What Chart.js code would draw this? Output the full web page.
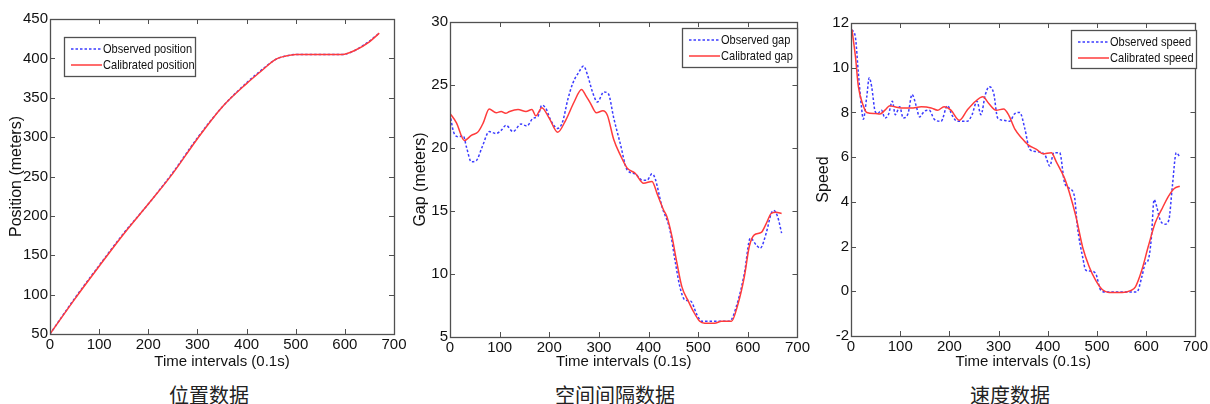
<!doctype html>
<html lang="zh">
<head>
<meta charset="utf-8">
<title>位置 / 空间间隔 / 速度数据</title>
<script src="https://cdn.jsdelivr.net/npm/chart.js@4/dist/chart.umd.min.js"></script>
<style>
  html, body { margin: 0; padding: 0; background: #fff; }
  #wrap { position: relative; width: 1210px; height: 404px; overflow: hidden; background: #fff; }
  canvas { position: absolute; top: 0; }
  .cap { position: absolute; top: 382px; width: 240px; text-align: center;
         font-family: "Noto Sans CJK SC", sans-serif; font-size: 20px; color: #222; line-height: 26px; }
</style>
</head>
<body>
<div id="wrap">
  <canvas id="c1" width="412" height="375" style="left:0px"></canvas>
  <canvas id="c2" width="412" height="375" style="left:400px"></canvas>
  <canvas id="c3" width="405" height="375" style="left:805px"></canvas>
  <div class="cap" style="left:89px">位置数据</div>
  <div class="cap" style="left:495px">空间间隔数据</div>
  <div class="cap" style="left:890px">速度数据</div>
</div>
<script>
// ---- data (time in 0.1s steps) ----
var posT    = [0, 50, 100, 150, 200, 250, 300, 350, 400, 430, 460, 480, 500, 550, 595, 620, 650, 670];
var posObs  = [50, 95, 137, 178, 215, 255, 299, 338, 369, 385, 399, 403, 405, 405, 405, 410, 422, 432];
var posCal  = [50, 94, 136, 177, 215, 254, 298, 338, 368, 384, 399, 403, 405, 405, 405, 410, 421, 432];

var gapObsT = [0, 7, 17, 27, 33, 43, 53, 65, 79, 93, 103, 113, 127, 143, 155, 167, 177, 185, 193, 203, 217, 227,
               237, 247, 260, 269, 277, 287, 297, 310, 319, 330, 343, 357, 373, 387, 397, 407, 413, 427, 443, 453,
               463, 473, 485, 497, 507, 540, 563, 580, 593, 605, 617, 625, 637, 647, 652, 660, 668];
var gapObs  = [22.7, 21.3, 20.9, 20.95, 20.1, 18.9, 19.0, 20.1, 21.3, 21.15, 21.4, 21.8, 21.3, 21.9, 21.75, 22.35,
               22.5, 23.4, 23.15, 22.2, 21.55, 22.1, 23.8, 25.1, 26.05, 26.5, 25.8, 24.45, 23.65, 24.45, 24.3, 22.35,
               20.35, 18.25, 17.95, 17.45, 17.45, 17.95, 17.6, 15.35, 13.5, 11.15, 9.0, 7.95, 7.85, 6.8, 6.25, 6.25,
               6.25, 7.85, 10.05, 12.85, 12.3, 12.05, 13.25, 14.8, 15.05, 14.55, 13.25];
var gapCalT = [0, 13, 29, 43, 57, 67, 79, 93, 103, 112, 120, 137, 153, 165, 173, 185, 200, 217, 233, 250, 265, 273,
               283, 295, 308, 317, 330, 343, 357, 373, 390, 407, 417, 430, 437, 447, 457, 467, 480, 490, 503, 513,
               533, 547, 567, 580, 593, 603, 613, 627, 637, 647, 657, 668];
var gapCal  = [22.75, 22.0, 20.6, 21.0, 21.3, 22.0, 23.1, 22.8, 22.9, 22.75, 22.9, 23.05, 22.9, 23.05, 22.55, 23.2,
               22.35, 21.25, 22.2, 23.65, 24.65, 24.2, 23.55, 22.8, 22.95, 22.6, 20.65, 19.45, 18.4, 18.0, 17.2, 17.35,
               16.4, 15.1, 14.55, 13.0, 10.9, 9.0, 7.85, 7.05, 6.25, 6.1, 6.1, 6.25, 6.25, 7.6, 9.8, 12.2, 13.1, 13.3,
               14.0, 14.8, 14.9, 14.8];

var spdObsT = [2, 9, 15, 21, 25, 32, 37, 42, 49, 54, 62, 69, 76, 84, 90, 99, 106, 116, 124, 133, 139, 149, 159, 169,
               183, 196, 206, 216, 236, 246, 256, 264, 273, 281, 290, 298, 310, 322, 333, 343, 353, 363, 377, 394,
               404, 412, 424, 434, 444, 454, 460, 471, 477, 487, 497, 507, 517, 571, 581, 591, 598, 604, 610, 616,
               621, 628, 638, 646, 653, 661, 667];
var spdObs  = [11.7, 11.35, 9.75, 8.3, 7.7, 8.7, 9.55, 9.15, 8.05, 7.95, 8.1, 7.75, 7.9, 8.5, 7.9, 8.25, 7.75, 7.95,
               8.8, 8.25, 7.8, 8.05, 8.1, 7.7, 7.6, 8.3, 7.85, 7.6, 7.6, 7.9, 8.5, 7.9, 8.8, 9.15, 8.85, 7.75, 7.65,
               7.6, 7.95, 8.0, 7.3, 6.35, 6.25, 6.1, 5.6, 6.2, 6.2, 4.85, 4.6, 4.25, 2.9, 1.5, 0.95, 0.9, 0.8, 0.07,
               -0.03, -0.03, -0.03, 0.65, 1.25, 1.4, 2.3, 4.1, 3.8, 3.2, 3.0, 3.2, 4.7, 6.2, 6.05];
var spdCalT = [2, 9, 15, 25, 32, 49, 59, 69, 79, 89, 102, 122, 143, 163, 176, 189, 203, 220, 236, 253, 268, 280,
               295, 310, 320, 333, 347, 360, 377, 390, 407, 417, 434, 444, 457, 471, 484, 497, 511, 524, 551, 568,
               578, 591, 604, 618, 631, 645, 657, 668];
var spdCal  = [11.7, 10.5, 9.15, 8.3, 8.0, 7.95, 7.93, 8.1, 8.3, 8.25, 8.2, 8.2, 8.25, 8.2, 8.1, 8.25, 8.1, 7.65,
               8.1, 8.5, 8.7, 8.4, 8.1, 8.15, 7.9, 7.25, 6.85, 6.55, 6.35, 6.15, 6.2, 5.8, 5.05, 4.4, 3.35, 1.95, 1.1,
               0.5, 0.07, -0.05, -0.05, 0.03, 0.2, 0.95, 2.0, 3.05, 3.65, 4.25, 4.6, 4.7];

var xTicks = [0, 100, 200, 300, 400, 500, 600, 700];

function pts(t, v) { return t.map(function (x, i) { return { x: x, y: v[i] }; }); }

var OBS_COL = '#3b3bff', CAL_COL = '#ff3b3b';
var TICK_FONT = { family: '"Liberation Sans", Arial, sans-serif', size: 15 };

// matlab-ish frame: box, inward ticks on all four sides, boxed legend
var matFrame = {
  id: 'matFrame',
  afterDraw: function (chart, args, o) {
    var ctx = chart.ctx, a = chart.chartArea;
    var xs = chart.scales.x, ys = chart.scales.y;
    ctx.save();
    ctx.strokeStyle = '#505050';
    ctx.lineWidth = 1;
    ctx.beginPath();
    xs.ticks.forEach(function (t) {
      var px = Math.round(xs.getPixelForValue(t.value)) + 0.5;
      ctx.moveTo(px, a.bottom); ctx.lineTo(px, a.bottom - 5);
      ctx.moveTo(px, a.top); ctx.lineTo(px, a.top + 5);
    });
    ys.ticks.forEach(function (t) {
      var py = Math.round(ys.getPixelForValue(t.value)) + 0.5;
      ctx.moveTo(a.left, py); ctx.lineTo(a.left + 5, py);
      ctx.moveTo(a.right, py); ctx.lineTo(a.right - 5, py);
    });
    ctx.stroke();
    ctx.lineWidth = 1.3;
    ctx.strokeRect(Math.round(a.left) + 0.5, Math.round(a.top) + 0.5,
                   Math.round(a.right - a.left), Math.round(a.bottom - a.top));

    // legend
    var L = o.box;
    ctx.fillStyle = '#fff';
    ctx.fillRect(L.x, L.y, L.w, L.h);
    ctx.strokeStyle = '#505050';
    ctx.lineWidth = 1.3;
    ctx.strokeRect(L.x + 0.5, L.y + 0.5, L.w, L.h);
    ctx.font = '13px "Liberation Sans", sans-serif';
    ctx.textBaseline = 'middle';
    chart.data.datasets.forEach(function (ds, i) {
      var yy = L.y + 12 + i * 16;
      ctx.strokeStyle = ds.borderColor;
      ctx.lineWidth = ds.borderWidth;
      ctx.setLineDash(ds.borderDash || []);
      ctx.beginPath();
      ctx.moveTo(L.x + 7, yy); ctx.lineTo(L.x + 38, yy);
      ctx.stroke();
      ctx.setLineDash([]);
      ctx.fillStyle = '#111';
      // condensed text, the original uses a narrow face
      ctx.save();
      ctx.translate(L.x + 39, yy);
      ctx.scale(0.85, 1);
      ctx.fillText(ds.label, 0, 0);
      ctx.restore();
    });
    ctx.restore();
  }
};

function makeChart(id, cfg) {
  return new Chart(document.getElementById(id), {
    type: 'line',
    data: {
      datasets: [
        { label: cfg.obsLabel, data: cfg.obs, borderColor: OBS_COL, borderWidth: 1.5, borderDash: [2.5, 2],
          pointRadius: 0, cubicInterpolationMode: 'monotone', fill: false, order: 2 },
        { label: cfg.calLabel, data: cfg.cal, borderColor: CAL_COL, borderWidth: 1.5,
          pointRadius: 0, cubicInterpolationMode: 'monotone', fill: false, order: 1 }
      ]
    },
    options: {
      responsive: false,
      animation: false,
      events: [],
      layout: { padding: { top: cfg.top, right: cfg.right, left: 0, bottom: 0 } },
      plugins: { legend: { display: false }, tooltip: { enabled: false }, matFrame: { box: cfg.legendBox } },
      scales: {
        x: {
          type: 'linear', min: 0, max: 700,
          afterBuildTicks: function (s) { s.ticks = xTicks.map(function (v) { return { value: v }; }); },
          afterFit: function (s) { s.height = 375 - cfg.bottom; },
          grid: { display: false, drawTicks: false },
          border: { display: false },
          ticks: { font: TICK_FONT, color: '#111', padding: 2, maxRotation: 0, autoSkip: false },
          title: { display: true, text: 'Time intervals (0.1s)', font: TICK_FONT, color: '#111', padding: { top: 0, bottom: 4 } }
        },
        y: {
          type: 'linear', min: cfg.yMin, max: cfg.yMax,
          afterBuildTicks: function (s) { s.ticks = cfg.yTicks.map(function (v) { return { value: v }; }); },
          afterFit: function (s) { s.width = cfg.left; },
          grid: { display: false, drawTicks: false },
          border: { display: false },
          ticks: { font: TICK_FONT, color: '#111', padding: 2, autoSkip: false },
          title: { display: true, text: cfg.yTitle, font: { family: TICK_FONT.family, size: 16 }, color: '#111',
                   padding: { top: cfg.yTitlePad, bottom: 0 } }
        }
      }
    },
    plugins: [matFrame]
  });
}

makeChart('c1', {
  obs: pts(posT, posObs), cal: pts(posT, posCal),
  obsLabel: 'Observed position', calLabel: 'Calibrated position',
  yMin: 50, yMax: 450, yTicks: [50, 100, 150, 200, 250, 300, 350, 400, 450], yTitle: 'Position (meters)',
  left: 50, top: 19, right: 18, bottom: 334, yTitlePad: 7,
  legendBox: { x: 64, y: 37, w: 131, h: 39 }
});

makeChart('c2', {
  obs: pts(gapObsT, gapObs), cal: pts(gapCalT, gapCal),
  obsLabel: 'Observed gap', calLabel: 'Calibrated gap',
  yMin: 5, yMax: 30, yTicks: [5, 10, 15, 20, 25, 30], yTitle: 'Gap (meters)',
  left: 50, top: 22, right: 12, bottom: 337, yTitlePad: 11,
  legendBox: { x: 282, y: 28, w: 115, h: 39 }
});

makeChart('c3', {
  obs: pts(spdObsT, spdObs), cal: pts(spdCalT, spdCal),
  obsLabel: 'Observed speed', calLabel: 'Calibrated speed',
  yMin: -2, yMax: 12, yTicks: [-2, 0, 2, 4, 6, 8, 10, 12], yTitle: 'Speed',
  left: 46, top: 23, right: 11, bottom: 336, yTitlePad: 9,
  legendBox: { x: 266, y: 30, w: 125, h: 38 }
});
</script>
</body>
</html>
